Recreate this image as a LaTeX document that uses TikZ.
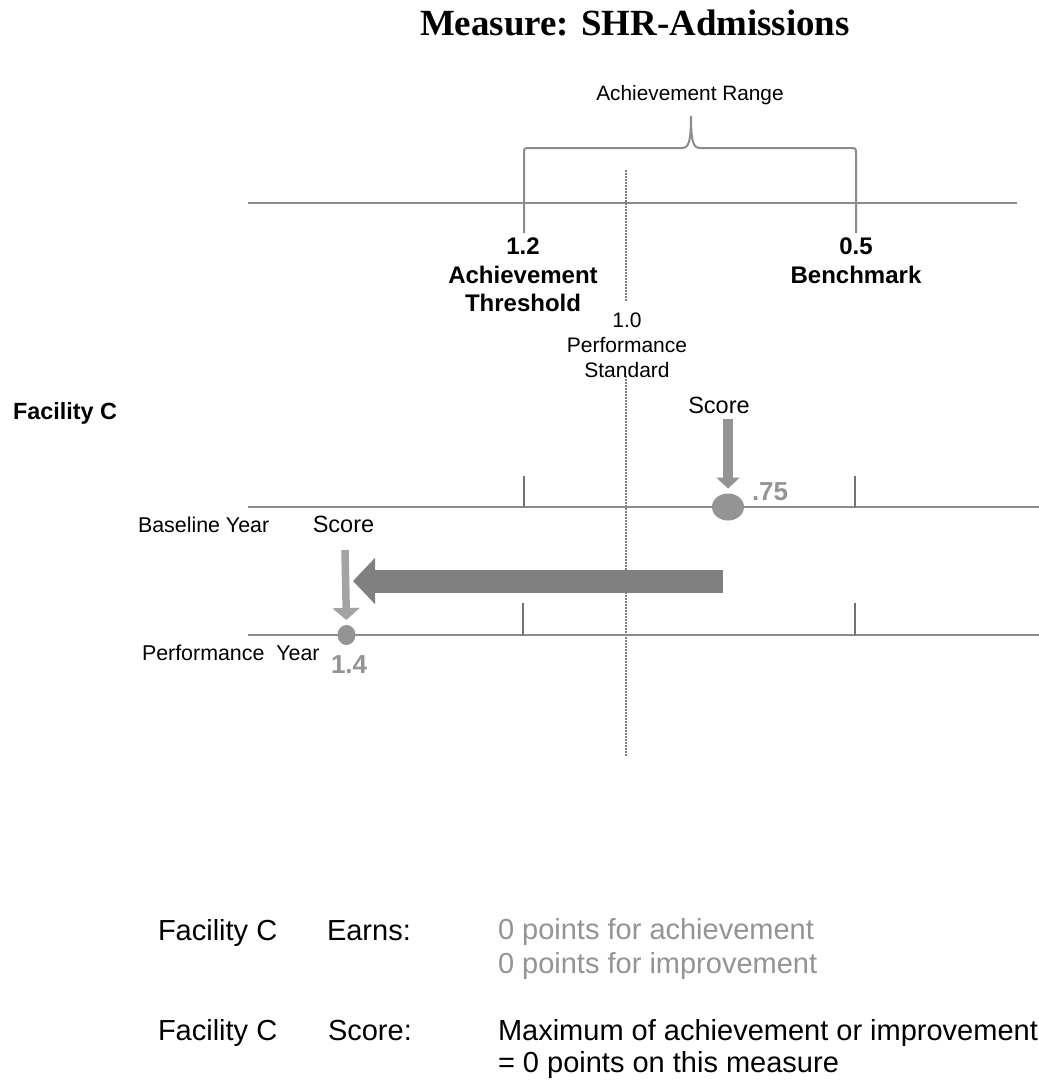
\documentclass[tikz,border=0pt]{standalone}
\usepackage{fontspec}
\setmainfont{Liberation Sans}
\newfontfamily\titlefont{Liberation Serif}
\usetikzlibrary{shapes.geometric,arrows.meta}
\definecolor{axisgray}{gray}{0.55}
\definecolor{tickgray}{gray}{0.45}
\definecolor{dotgray}{gray}{0.58}
\definecolor{arrowgray}{gray}{0.58}
\definecolor{bigarrowgray}{gray}{0.5}
\definecolor{lightarrowgray}{gray}{0.64}
\definecolor{textgray}{gray}{0.58}
\begin{document}
\begin{tikzpicture}[x=1pt,y=-1pt,
  every node/.style={inner sep=0pt, outer sep=0pt},
  axis/.style={draw=axisgray, line width=2pt},
  tickline/.style={draw=tickgray, line width=2pt},
  brace/.style={draw=axisgray, line width=2pt},
  dotline/.style={draw=gray, line width=1.3pt, dash pattern=on 1.5pt off 1.5pt},
  lbl/.style={font=\fontsize{21}{25}\selectfont},
  boldlbl/.style={font=\fontsize{24}{28.5}\selectfont\bfseries, align=center},
  scorelbl/.style={font=\fontsize{23.5}{27}\selectfont},
  bottomtxt/.style={font=\fontsize{29}{33}\selectfont},
  scoredot/.style={ellipse, fill=dotgray},
  valuetxt/.style={font=\fontsize{26}{30}\selectfont\bfseries, text=textgray}
]
\useasboundingbox[fill=white] (0,0) rectangle (1039,1085);

% title
\node[anchor=base west, font=\titlefont\bfseries\fontsize{36.9}{42}\selectfont] (title) at (420,35) {Measure: SHR-Admissions};

% achievement range brace
\node[anchor=base, font=\fontsize{20.8}{25}\selectfont] (range) at (690,100) {Achievement Range};
\draw[brace] (524,233) -- (524,154) .. controls (524,148) .. (530,148) -- (682,148)
  .. controls (689,148) and (691,141) .. (691,116)
  .. controls (691,141) and (693,148) .. (700,148) -- (850,148)
  .. controls (856,148) .. (856,154) -- (856,233);

% top axis
\draw[axis] (248,203) -- (1017,203);

% dotted performance standard line
\draw[dotline] (626,170) -- (626,302);
\draw[dotline] (626,376) -- (626,757);

% labels on top axis
\node[boldlbl, anchor=north] (thr) at (523,238) {1.2\\Achievement\\Threshold};
\node[boldlbl, anchor=north] (bench) at (856,238) {0.5\\Benchmark};
\node[lbl, align=center, anchor=north] (std) at (627,313) {1.0\\Performance\\Standard};

% facility
\node[anchor=base west, font=\fontsize{23.4}{27}\selectfont\bfseries] (fac) at (13,419) {Facility C};

% baseline year axis
\draw[axis] (248,507) -- (1039,507);
\draw[tickline] (524,476) -- (524,507);
\draw[tickline] (855,476) -- (855,507);
\node[anchor=base west, font=\fontsize{21.4}{25}\selectfont] (byear) at (138,532) {Baseline Year};

% performance year axis
\draw[axis] (248,635) -- (1039,635);
\draw[tickline] (523,603) -- (523,635);
\draw[tickline] (855,603) -- (855,635);
\node[anchor=base west, font=\fontsize{21.4}{25}\selectfont] (pyear) at (142,660) {Performance\ \ Year};

% baseline score
\node[scoredot, minimum width=32pt, minimum height=27pt] (dot1) at (728,507) {};
\node[valuetxt, anchor=base west] (v1) at (752,500) {.75};
\node[scorelbl, anchor=base] (sc1) at (719,413) {Score};
\coordinate (a1s) at (728,419);
\draw[draw=arrowgray, line width=10pt, -{Triangle[width=23pt,length=11pt,fill=arrowgray]}, shorten >=5pt] (a1s) -- (dot1.north);

% performance score
\node[scoredot, minimum width=18pt, minimum height=20pt] (dot2) at (346.5,635) {};
\node[valuetxt, anchor=base west] (v2) at (331,673) {1.4};
\node[scorelbl, anchor=base] (sc2) at (343.5,532) {Score};
\coordinate (a2s) at (345,550);
\draw[draw=lightarrowgray, line width=7.5pt, -{Triangle[width=27pt,length=12pt,fill=lightarrowgray]}, shorten >=5pt] (a2s) -- (dot2.north);

% big change arrow
\coordinate (bigs) at (723,581);
\coordinate (bige) at (353,581);
\draw[draw=bigarrowgray, line width=23pt, -{Triangle[width=45pt,length=22pt,fill=bigarrowgray]}] (bigs) -- (bige);

% bottom texts
\node[bottomtxt, anchor=base west] (f1) at (158,940) {Facility C};
\node[bottomtxt, anchor=base west] (earn) at (327,940) {Earns:};
\node[anchor=north west, align=left, text=textgray, font=\fontsize{29}{34}\selectfont] (pts) at (498,918) {0 points for achievement\\0 points for improvement};
\node[bottomtxt, anchor=base west] (f2) at (158,1040) {Facility C};
\node[bottomtxt, anchor=base west] (scr) at (328,1040) {Score:};
\node[anchor=north west, align=left, font=\fontsize{29}{32}\selectfont] (maxt) at (498,1019) {Maximum of achievement or improvement\\= 0 points on this measure};
\end{tikzpicture}
\end{document}
